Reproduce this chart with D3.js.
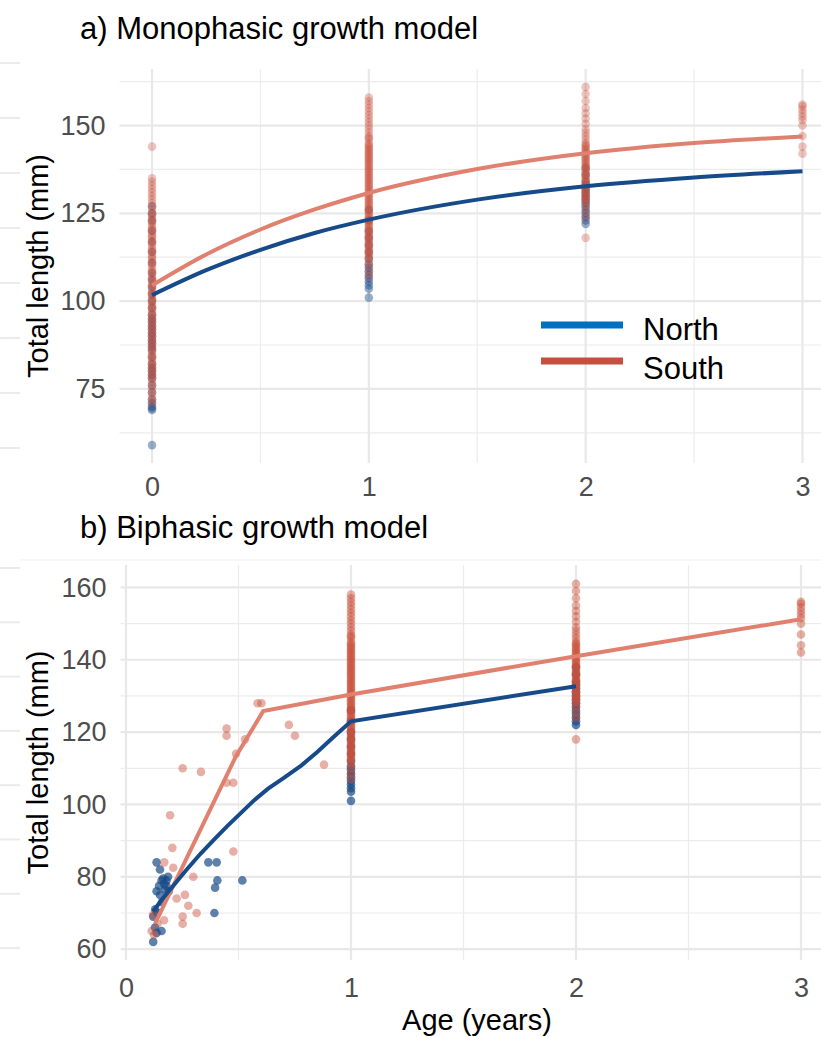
<!DOCTYPE html>
<html>
<head>
<meta charset="utf-8">
<script src="https://cdn.jsdelivr.net/npm/d3@7"></script>
<style>
body { margin: 0; background: #fff; }
text { font-family: "Liberation Sans", Arial, sans-serif; }
</style>
</head>
<body>
<div id="vis"></div>
<script>
// ---- data ----
// panel a: age-0 lengths (mm)
var northAge0 = [59, 69, 69.5, 70, 71, 72, 74, 76, 78, 79, 80, 81, 82, 84, 86, 87, 88, 89, 90, 91, 92, 93, 94, 95, 96, 98, 100, 102, 104, 106, 108, 111, 114, 117, 120, 123, 125, 127];
var southAge0 = [71, 72, 73, 74, 75, 76, 77, 78, 78.5, 79, 80, 80.5, 81, 82, 82.5, 83, 84, 84.5, 85, 86, 86.5, 87, 88, 88.5, 89, 90, 90.5, 91, 92, 92.5, 93, 94, 94.5, 95, 96, 96.5, 97, 98, 98.5, 99, 100, 100.5, 101, 102, 102.5, 103, 104, 104.5, 105, 106, 106.5, 107, 108, 108.5, 109, 110, 110.5, 111, 112, 112.5, 113, 114, 114.5, 115, 116, 116.5, 117, 118, 118.5, 119, 120, 120.5, 121, 122, 122.5, 123, 124, 124.5, 125, 126, 127, 128, 129, 130, 131, 132, 133, 134, 135, 144];

// ages 1-3 (shared by both panels)
var northAge1 = [101, 103.5, 104.5, 105.5, 106.5, 107.5, 108.5, 109.5, 110.5, 112, 114, 116, 118, 120, 123, 126];
var southAge1 = [107, 108.5, 110, 111, 112, 112.5, 113, 113.5, 114, 114.5, 115, 115.5, 116, 116.5, 117, 117.5, 118, 118.5, 119, 119.5, 120, 120.5, 121, 121.5, 122, 122.5, 123, 123.5, 124, 124.5, 125, 125.5, 126, 126.5, 127, 127.5, 128, 128.5, 129, 129.5, 130, 130.5, 131, 131.5, 132, 132.5, 133, 133.5, 134, 134.5, 135, 135.5, 136, 136.5, 137, 137.5, 138, 138.5, 139, 139.5, 140, 140.5, 141, 141.5, 142, 142.5, 143, 143.5, 144, 144.5, 145, 146, 146.5, 147, 148, 149, 150, 151, 152, 153, 154, 155, 156, 157, 158];
var northAge2 = [122, 123, 124, 125, 126, 127, 128, 129, 130, 131, 132, 133, 134, 136, 138];
var southAge2 = [118, 124, 125.5, 127, 128, 128.5, 129, 129.5, 130, 130.5, 131, 131.5, 132, 132.5, 133, 133.5, 134, 134.5, 135, 135.5, 136, 136.5, 137, 137.5, 138, 138.5, 139, 139.5, 140, 140.5, 141, 141.5, 142, 142.5, 143, 143.5, 144, 144.5, 145, 146, 147, 148, 149, 150.5, 152, 153.5, 155, 157, 159, 161];
var southAge3 = [142, 144, 147, 150, 151.5, 152.5, 153.5, 154.5, 155.5, 156];

// panel b: young fish with fractional ages
var youngNorthAge = [0.136, 0.151, 0.136, 0.158, 0.165, 0.18, 0.187, 0.173, 0.151, 0.18, 0.147, 0.121, 0.129, 0.136, 0.158, 0.121, 0.366, 0.403, 0.406, 0.396, 0.393, 0.517, 0.14, 0.16, 0.13, 0.17, 0.19];
var youngNorthLen = [84, 82, 76, 79, 79.5, 79, 80, 76.5, 75, 77.5, 77.5, 69, 66, 64.5, 65, 62, 84, 84, 79, 77, 70, 79, 70, 73, 71, 78, 76];
var youngSouthAge = [0.196, 0.206, 0.17, 0.21, 0.299, 0.225, 0.262, 0.277, 0.252, 0.252, 0.314, 0.169, 0.114, 0.125, 0.477, 0.447, 0.477, 0.252, 0.333, 0.447, 0.447, 0.489, 0.529, 0.585, 0.602, 0.724, 0.751, 0.88, 0.12, 0.14];
var youngSouthLen = [97, 88, 84, 82.5, 80, 74, 75, 72, 69, 67, 70, 68, 65, 64, 87, 106, 106, 110, 109, 121, 119, 114, 118, 128, 128, 122, 119, 111, 69.5, 67];

// fitted curves
var monoAge = [0, 0.25, 0.5, 0.75, 1, 1.5, 2, 2.5, 3];
var monoNorth = [101.7, 108.8, 114.6, 119.4, 123.2, 128.9, 132.7, 135.2, 137];
var monoSouth = [104.5, 113.3, 120.4, 126.1, 130.8, 137.6, 142.1, 145, 146.9];
var biNorthAge = [0.12, 0.16, 0.2, 0.27, 0.33, 0.39, 0.45, 0.51, 0.57, 0.63, 0.7, 0.78, 0.85, 0.92, 1, 2];
var biNorthLen = [70.4, 73.7, 76.8, 82, 86.3, 90.2, 94, 97.6, 101.2, 104.3, 107.3, 110.8, 114.5, 118.5, 123, 132.7];
var biSouthAge = [0.13, 0.49, 0.61, 1, 2, 3];
var biSouthLen = [67.2, 113.5, 125.8, 130.4, 141, 151.2];

var xTicks = [0, 1, 2, 3];
var xMinor = [0.5, 1.5, 2.5];
var yTicksA = [75, 100, 125, 150];
var yMinorA = [62.5, 87.5, 112.5, 137.5, 162.5];
var yTicksB = [60, 80, 100, 120, 140, 160];
var yMinorB = [70, 90, 110, 130, 150];

var series = ['North', 'South'];
var legendColors = ['#0070C0', '#C55040'];

// ---- styling ----
var width = 821, height = 1037;
var pointBlue = '#1a4c88', pointRed = '#c9503a';
var lineBlue = '#164a88', lineRed = '#e0806f';

var svg = d3.select('#vis')
    .append('svg')
    .attr('width', width)
    .attr('height', height);

// faint grid stubs along the left edge
var stubs = d3.range(8).map(function(i) { return 63 + i * 55; })
    .concat(d3.range(8).map(function(i) { return 568 + i * 54.3; }));
svg.selectAll('.stub')
    .data(stubs)
    .enter()
    .append('line')
    .attr('x1', 0).attr('x2', 20)
    .attr('y1', function(d) { return d; })
    .attr('y2', function(d) { return d; })
    .attr('stroke', '#ebebeb')
    .attr('stroke-width', 2);

svg.append('line')
    .attr('x1', 20).attr('x2', width)
    .attr('y1', 560).attr('y2', 560)
    .attr('stroke', '#f6f6f6')
    .attr('stroke-width', 1.5);

function pairs(ages, lens) {
    return lens.map(function(v, i) { return [ages[i], v]; });
}
function strip(age, lens) {
    return lens.map(function(v) { return [age, v]; });
}

function panel(o) {
    var g = svg.append('g');
    var x = d3.scaleLinear().domain(o.xDomain).range(o.xRange);
    var y = d3.scaleLinear().domain(o.yDomain).range(o.yRange);

    // minor grid
    g.selectAll('.vminor').data(xMinor).enter().append('line')
        .attr('x1', function(d) { return x(d); })
        .attr('x2', function(d) { return x(d); })
        .attr('y1', o.yRange[0]).attr('y2', o.yRange[1])
        .attr('stroke', '#ececec').attr('stroke-width', 1.2);
    g.selectAll('.hminor').data(o.yMinor).enter().append('line')
        .attr('x1', o.xRange[0]).attr('x2', o.xRange[1])
        .attr('y1', function(d) { return y(d); })
        .attr('y2', function(d) { return y(d); })
        .attr('stroke', '#ececec').attr('stroke-width', 1.2);
    // major grid
    g.selectAll('.vmajor').data(xTicks).enter().append('line')
        .attr('x1', function(d) { return x(d); })
        .attr('x2', function(d) { return x(d); })
        .attr('y1', o.yRange[0]).attr('y2', o.yRange[1])
        .attr('stroke', '#e8e8e8').attr('stroke-width', 2.2);
    g.selectAll('.hmajor').data(o.yTicks).enter().append('line')
        .attr('x1', o.xRange[0]).attr('x2', o.xRange[1])
        .attr('y1', function(d) { return y(d); })
        .attr('y2', function(d) { return y(d); })
        .attr('stroke', '#e8e8e8').attr('stroke-width', 2.2);

    // axes
    var ya = g.append('g')
        .attr('transform', 'translate(' + o.xRange[0] + ',0)')
        .call(d3.axisLeft(y).tickValues(o.yTicks).tickFormat(d3.format('d')).tickSize(0).tickPadding(14));
    var xa = g.append('g')
        .attr('transform', 'translate(0,' + o.yRange[0] + ')')
        .call(d3.axisBottom(x).tickValues(xTicks).tickFormat(d3.format('d')).tickSize(0).tickPadding(o.xPad));
    [ya, xa].forEach(function(a) {
        a.select('.domain').remove();
        a.selectAll('text')
            .style('font-family', '"Liberation Sans", Arial, sans-serif')
            .style('font-size', '27px')
            .attr('fill', '#4d4d4d');
    });

    // points: North first, South on top
    g.selectAll('.pn').data(o.north).enter().append('circle')
        .attr('cx', function(d) { return x(d[0]); })
        .attr('cy', function(d) { return y(d[1]); })
        .attr('r', 4.3)
        .attr('fill', pointBlue)
        .attr('fill-opacity', o.alphaN);
    g.selectAll('.ps').data(o.south).enter().append('circle')
        .attr('cx', function(d) { return x(d[0]); })
        .attr('cy', function(d) { return y(d[1]); })
        .attr('r', 4.3)
        .attr('fill', pointRed)
        .attr('fill-opacity', o.alphaS);

    // fitted lines
    var line = d3.line()
        .x(function(d) { return x(d[0]); })
        .y(function(d) { return y(d[1]); })
        .curve(o.curve);
    g.append('path').datum(o.lineS)
        .attr('fill', 'none').attr('stroke', lineRed)
        .attr('stroke-width', 4).attr('d', line);
    g.append('path').datum(o.lineN)
        .attr('fill', 'none').attr('stroke', lineBlue)
        .attr('stroke-width', 4).attr('d', line);

    // titles
    svg.append('text')
        .attr('x', 80).attr('y', o.titleY)
        .style('font-size', '31px')
        .attr('fill', '#000')
        .text(o.title);
    svg.append('text')
        .attr('transform', 'translate(48,' + ((o.yRange[0] + o.yRange[1]) / 2) + ') rotate(-90)')
        .attr('text-anchor', 'middle')
        .style('font-size', '29px')
        .attr('fill', '#000')
        .text('Total length (mm)');
    return g;
}

panel({
    title: 'a) Monophasic growth model',
    titleY: 39,
    xDomain: [-0.15, 3.15], xRange: [119.5, 835],
    yDomain: [53.9, 166.1], yRange: [463, 69],
    yTicks: yTicksA, yMinor: yMinorA, xPad: 14,
    north: strip(0, northAge0).concat(strip(1, northAge1), strip(2, northAge2)),
    south: strip(0, southAge0).concat(strip(1, southAge1), strip(2, southAge2), strip(3, southAge3)),
    alphaN: 0.45, alphaS: 0.33,
    lineN: pairs(monoAge, monoNorth),
    lineS: pairs(monoAge, monoSouth),
    curve: d3.curveMonotoneX
});

panel({
    title: 'b) Biphasic growth model',
    titleY: 538,
    xDomain: [-0.024, 3.144], xRange: [120.6, 833.4],
    yDomain: [57, 166.2], yRange: [960, 565],
    yTicks: yTicksB, yMinor: yMinorB, xPad: 18,
    north: pairs(youngNorthAge, youngNorthLen).concat(strip(1, northAge1), strip(2, northAge2)),
    south: pairs(youngSouthAge, youngSouthLen).concat(strip(1, southAge1), strip(2, southAge2), strip(3, southAge3)),
    alphaN: 0.7, alphaS: 0.45,
    lineN: pairs(biNorthAge, biNorthLen),
    lineS: pairs(biSouthAge, biSouthLen),
    curve: d3.curveLinear
});

// x axis title
svg.append('text')
    .attr('x', 477).attr('y', 1030)
    .attr('text-anchor', 'middle')
    .style('font-size', '29px')
    .attr('fill', '#000')
    .text('Age (years)');

// legend (panel a)
var legend = svg.append('g');
legend.selectAll('line')
    .data(series)
    .enter()
    .append('line')
    .attr('x1', 541).attr('x2', 623)
    .attr('y1', function(d, i) { return 325 + i * 36; })
    .attr('y2', function(d, i) { return 325 + i * 36; })
    .attr('stroke', function(d, i) { return legendColors[i]; })
    .attr('stroke-width', 7);
legend.selectAll('text')
    .data(series)
    .enter()
    .append('text')
    .attr('x', 643)
    .attr('y', function(d, i) { return 340 + i * 39; })
    .style('font-size', '31px')
    .attr('fill', '#000')
    .text(function(d) { return d; });
</script>
</body>
</html>
